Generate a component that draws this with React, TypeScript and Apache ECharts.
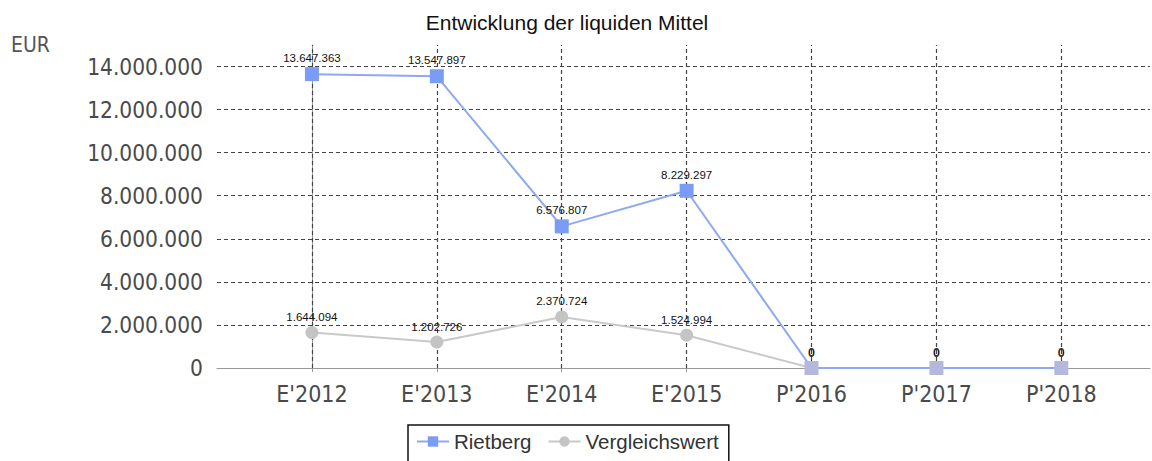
import React, { useEffect, useRef } from "react";
import * as echarts from "echarts";

const categories = ["E'2012", "E'2013", "E'2014", "E'2015", "P'2016", "P'2017", "P'2018"];
const rietberg = [13647363, 13547897, 6576807, 8229297, 0, 0, 0];
const vergleichswert = [1644094, 1202726, 2370724, 1524994, 0, 0, 0];
const yTicks = [0, 2000000, 4000000, 6000000, 8000000, 10000000, 12000000, 14000000];
const titleText = "Entwicklung der liquiden Mittel";
const unitText = "EUR";

const fmt = (v: number) => String(Math.round(v)).replace(/\B(?=(\d{3})+(?!\d))/g, ".");

const AXIS_FONT = "'DejaVu Sans Condensed', 'Open Sans', 'DejaVu Sans', sans-serif";
const ARIAL = "'Liberation Sans', Arial, sans-serif";
const BLUE = "#7a9cf4";
const BLUE_LINE = "#8fa9f0";
const GREY = "#c4c4c4";
const GREY_LINE = "#c9c9c9";

export default function App() {
  const ref = useRef<HTMLDivElement>(null);
  useEffect(() => {
    if (!ref.current) return;
    const chart = echarts.init(ref.current, undefined, { renderer: "svg" });
    const idx = categories.map((_, i) => i);
    const gridStyle = { type: [4, 3] as any, color: "#444", width: 1.2 };
    const labelCfg = {
      show: true,
      position: "top" as const,
      distance: 3,
      fontFamily: ARIAL,
      fontSize: 11.5,
      color: "#111",
      formatter: (p: any) => fmt(p.value[1]),
    };
    chart.setOption({
      animation: false,
      backgroundColor: "#fff",
      graphic: [
        {
          type: "text",
          x: 567,
          y: 22,
          style: {
            text: titleText,
            fontFamily: ARIAL,
            fontSize: 21,
            fill: "#111",
            textAlign: "center",
            textVerticalAlign: "middle",
          },
        },
        {
          type: "text",
          x: 11,
          y: 45,
          style: {
            text: unitText,
            fontFamily: AXIS_FONT,
            fontSize: 21,
            fill: "#555",
            textAlign: "left",
            textVerticalAlign: "middle",
          },
        },
      ],
      grid: { left: 217, right: 2, top: 45, bottom: 93, containLabel: false },
      legend: {
        data: [
          { name: "Rietberg", itemStyle: { color: BLUE }, lineStyle: { color: BLUE_LINE } },
          { name: "Vergleichswert", itemStyle: { color: GREY }, lineStyle: { color: GREY_LINE } },
        ],
        left: 408,
        top: 425,
        padding: [6, 10, 14, 8],
        borderColor: "#111",
        borderWidth: 1.5,
        itemWidth: 32,
        itemHeight: 13,
        itemGap: 16,
        textStyle: { fontFamily: ARIAL, fontSize: 20.5, color: "#333" },
      },
      xAxis: {
        type: "value",
        min: -0.76,
        max: 6.71,
        splitLine: { show: false },
        axisLine: { show: true, lineStyle: { color: "#999", width: 1 } },
        axisTick: { show: true, customValues: idx, length: 4, lineStyle: { color: "#999" } },
        axisLabel: {
          customValues: idx,
          margin: 14,
          fontFamily: AXIS_FONT,
          fontSize: 23,
          color: "#4a4a4a",
          formatter: (v: number) => categories[Math.round(v)] ?? "",
        },
      },
      yAxis: {
        type: "value",
        min: 0,
        max: 15000000,
        splitLine: { show: false },
        axisLine: { show: true, lineStyle: { color: "#999", width: 1 } },
        axisTick: { show: true, customValues: yTicks, length: 4, lineStyle: { color: "#999" } },
        axisLabel: {
          customValues: yTicks,
          margin: 14,
          fontFamily: AXIS_FONT,
          fontSize: 22.5,
          color: "#4a4a4a",
          formatter: (v: number) => (v % 2000000 === 0 ? fmt(v) : ""),
        },
      },
      series: [
        {
          name: "grid",
          type: "line",
          data: [],
          silent: true,
          z: 1,
          markLine: {
            silent: true,
            symbol: "none",
            z: 1,
            label: { show: false },
            lineStyle: gridStyle,
            data: [
              ...yTicks.filter((v) => v > 0).map((v) => ({ yAxis: v })),
              ...idx.map((i) => ({ xAxis: i })),
            ],
          },
        },
        {
          name: "Vergleichswert",
          type: "line",
          z: 3,
          data: vergleichswert.map((v, i) => [i, v]),
          symbol: "circle",
          symbolSize: 13,
          itemStyle: { color: GREY },
          lineStyle: { color: GREY_LINE, width: 2 },
          label: labelCfg,
        },
        {
          name: "Rietberg",
          type: "line",
          z: 4,
          data: rietberg.map((v, i) => [i, v]),
          symbol: "rect",
          symbolSize: 14,
          itemStyle: {
            color: (p: any) => (p.value && p.value[1] === 0 ? "#b4b8dc" : BLUE),
          },
          lineStyle: { color: BLUE_LINE, width: 2 },
          label: labelCfg,
        },
      ],
    });
    return () => chart.dispose();
  }, []);
  return (
    <div
      ref={ref}
      style={{ position: "fixed", left: 0, top: 0, width: 1152, height: 461, background: "#fff" }}
    />
  );
}
